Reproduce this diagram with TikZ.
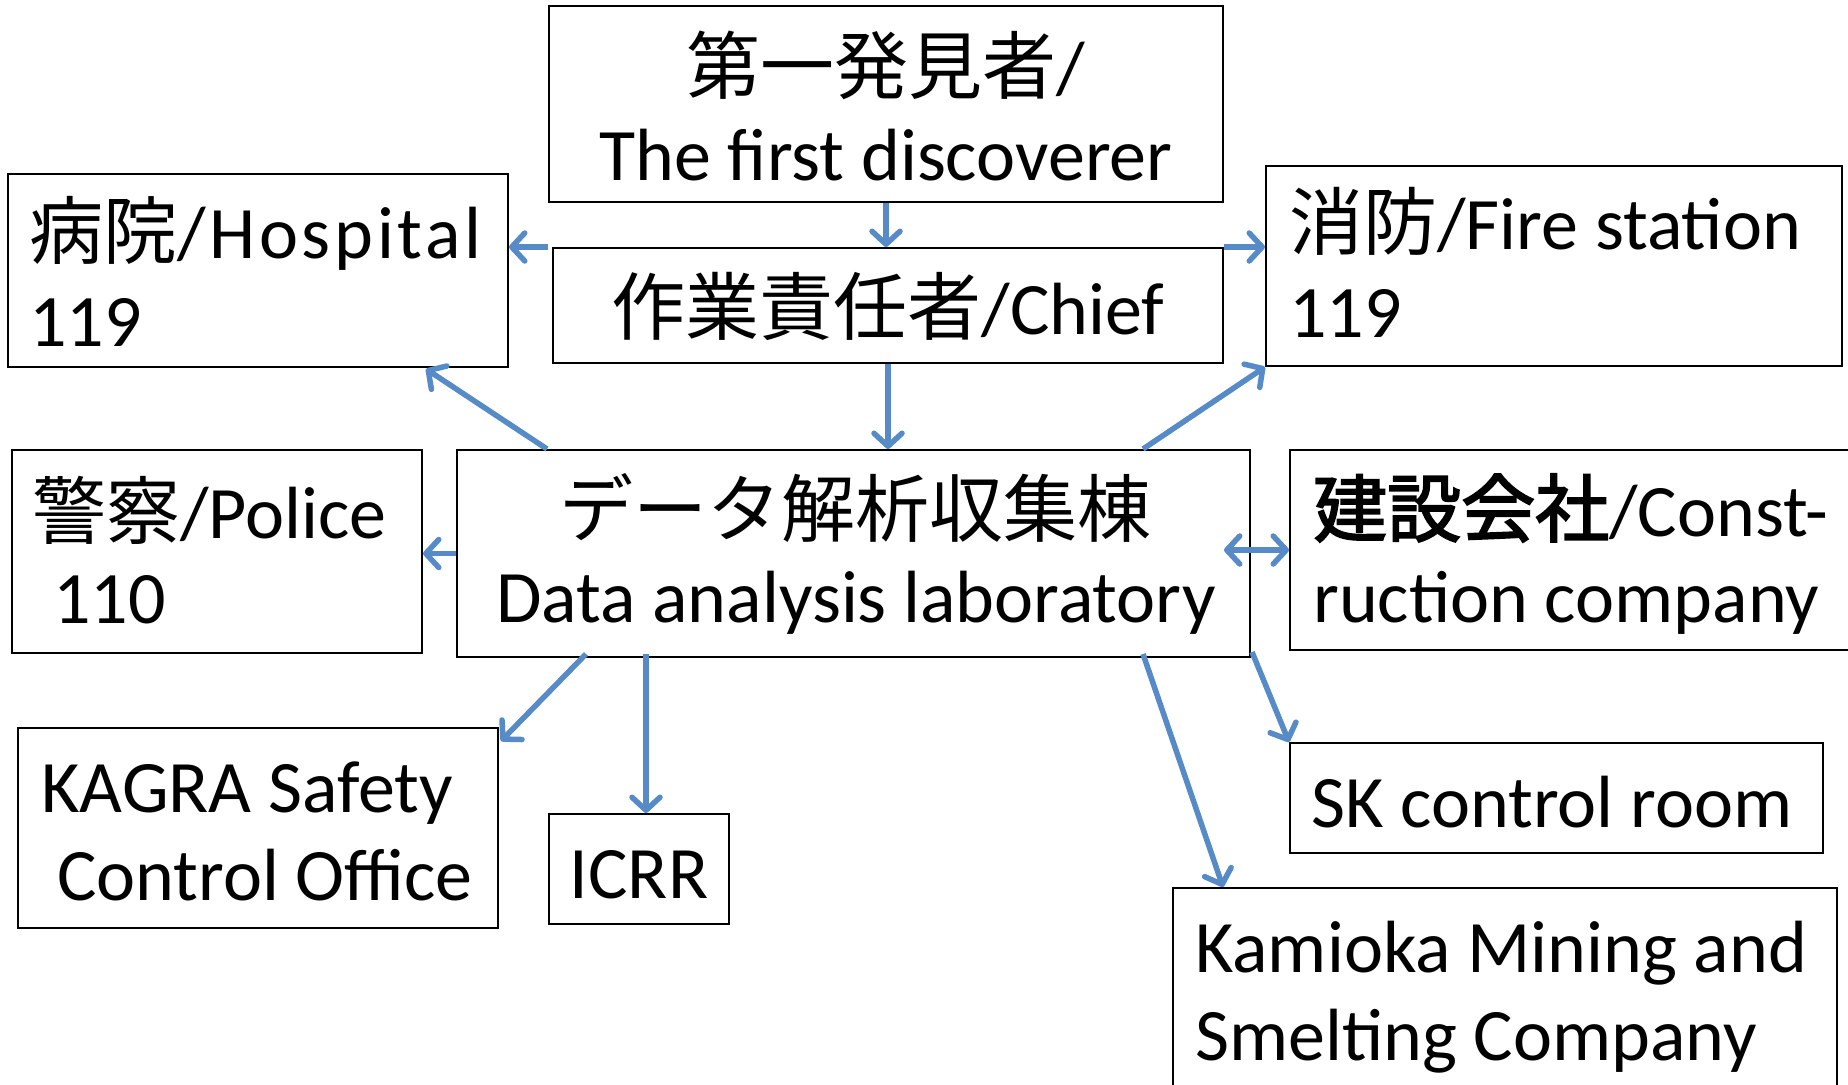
\documentclass[tikz,border=0pt]{standalone}
\usepackage{fontspec}
\setmainfont{Carlito}
\newfontfamily\jp{Noto Sans CJK JP}
\newfontfamily\jpbold{Noto Sans CJK JP}[FakeBold=2.5]
\usetikzlibrary{arrows.meta,calc}
\definecolor{arrowblue}{RGB}{86,139,200}
\begin{document}
\begin{tikzpicture}[x=1bp,y=-1bp,
  box/.style={draw=black, line width=2bp, inner sep=0, fill=none},
  txt/.style={inner sep=0, font=\fontsize{74bp}{88bp}\selectfont},
  tip/.tip={Straight Barb[length=13bp,width=28bp,line cap=round,line join=round]},
  arr/.style={draw=arrowblue, line width=5.5bp, -tip},
  darr/.style={draw=arrowblue, line width=5.5bp, tip-tip}]
\clip (0,0) rectangle (1848,1084);
\fill[white] (0,0) rectangle (1848,1084);

% boxes
\node[box, minimum width=674bp, minimum height=196bp] (disc) at (886,104) {};
\node[box, minimum width=670bp, minimum height=115bp] (chief) at (888,305.5) {};
\node[box, minimum width=500bp, minimum height=193bp] (hosp) at (258,270.5) {};
\node[box, minimum width=576bp, minimum height=200bp] (fire) at (1554,266) {};
\node[box, minimum width=410bp, minimum height=203bp] (police) at (217,551.5) {};
\node[box, minimum width=793bp, minimum height=207bp] (data) at (853.5,553.5) {};
\node[box, minimum width=580bp, minimum height=200bp] (cons) at (1580,550) {};
\node[box, minimum width=480bp, minimum height=200bp] (kagra) at (258,828) {};
\node[box, minimum width=180bp, minimum height=110bp] (icrr) at (639,869) {};
\node[box, minimum width=533bp, minimum height=110bp] (sk) at (1556.5,798) {};
\node[box, minimum width=664bp, minimum height=220bp] (kam) at (1505,998) {};

% texts
\node[txt, anchor=base] (discA) at (886,93) {{\jp 第一発見者}/};
\node[txt, anchor=base] (discB) at (886,180) {The first discoverer};
\node[txt, anchor=base] (chiefA) at (888,334) {{\jp 作業責任者}/Chief};
\node[txt, anchor=base west] (hospA) at (29,258) {{\jp 病院}{\addfontfeatures{LetterSpace=5}/Hospital}};
\node[txt, anchor=base west] (hospB) at (29,346) {119};
\node[txt, anchor=base west] (fireA) at (1289,249) {{\jp 消防}/Fire station};
\node[txt, anchor=base west] (fireB) at (1289,337) {119};
\node[txt, anchor=base west] (polA) at (32,538) {{\jp 警察}/Police};
\node[txt, anchor=base west] (polB) at (53,623) {110};
\node[txt, anchor=base] (dataA) at (855,536) {{\jp データ解析収集棟}};
\node[txt, anchor=base] (dataB) at (856,622) {Data analysis laboratory};
\node[txt, anchor=base west] (consA) at (1313,536) {{\jpbold 建設会社}/Const-};
\node[txt, anchor=base west] (consB) at (1313,622) {ruction company};
\node[txt, anchor=base west] (kagA) at (41,812) {KAGRA Safety};
\node[txt, anchor=base west] (kagB) at (57,900) {Control Office};
\node[txt, anchor=base] (icrrA) at (639,898) {ICRR};
\node[txt, anchor=base west] (skA) at (1311,827) {SK control room};
\node[txt, anchor=base west] (kamA) at (1195,972) {Kamioka Mining and};
\node[txt, anchor=base west] (kamB) at (1195,1060) {Smelting Company};

% connector end points
\coordinate (hospIn) at ($(hosp.south east)+(-83,1)$);
\coordinate (hospOut) at ($(data.north west)+(91,0)$);
\coordinate (fireOut) at ($(data.north east)+(-108,0)$);
\coordinate (consOut) at ($(cons.west)+(-65,0)$);
\coordinate (kagOut) at ($(data.south west)+(130,-4)$);
\coordinate (kagIn) at ($(kagra.north east)+(2,14)$);
\coordinate (icrrOut) at ($(data.south west)+(190,-4)$);
\coordinate (skOut) at ($(data.south east)+(1,-6)$);
\coordinate (kamOut) at ($(data.south east)+(-108,-4)$);
\coordinate (kamIn) at ($(kam.north west)+(51,0)$);
\coordinate (chiefNW) at ($(chief.north west)+(-4,0)$);

% connectors
\draw[arr] (disc.south) -- (disc.south |- chief.north);
\draw[arr] (chiefNW) -- (hosp.east |- chief.north);
\draw[arr] (chief.north east) -- (fire.west |- chief.north);
\draw[arr] (chief.south) -- (chief.south |- data.north);
\draw[arr] (hospOut) -- (hospIn);
\draw[arr] (fireOut) -- (fire.south west);
\draw[arr] (data.west) -- (data.west -| police.east);
\draw[darr] (consOut) -- (cons.west);
\draw[arr] (kagOut) -- (kagIn);
\draw[arr] (icrrOut) -- (icrrOut |- icrr.north);
\draw[arr] (skOut) -- (sk.north west);
\draw[arr] (kamOut) -- (kamIn);
\end{tikzpicture}
\end{document}
